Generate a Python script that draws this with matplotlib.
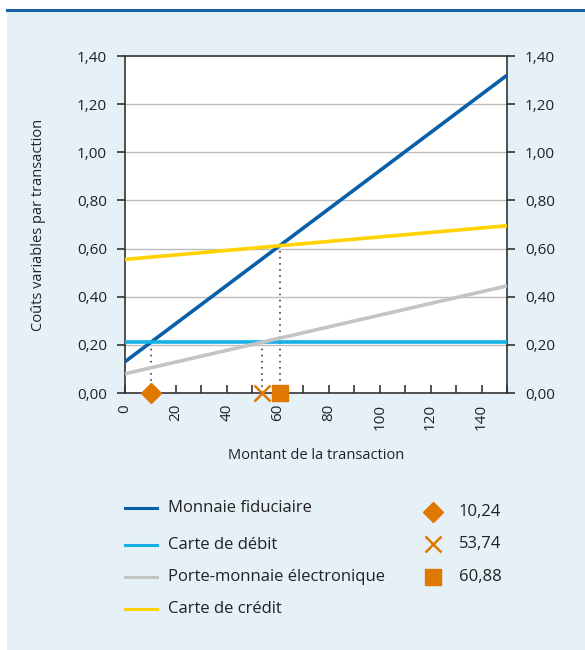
import matplotlib

matplotlib.use("Agg")
import matplotlib.pyplot as plt
from matplotlib.lines import Line2D
from matplotlib.patches import Rectangle

plt.rcParams["font.family"] = ["Open Sans", "DejaVu Sans"]

# data
x_range = [0, 150]
series_names = ["Monnaie fiduciaire", "Carte de débit", "Porte-monnaie électronique", "Carte de crédit"]
series_start = [0.13, 0.21, 0.08, 0.555]
series_end = [1.32, 0.21, 0.445, 0.695]
series_colors = ["#0b5ea8", "#14b1e7", "#c4c4c6", "#ffd200"]

cross_x = [10.24, 53.74, 60.88]
cross_y = [0.21, 0.21, 0.613]
cross_labels = ["10,24", "53,74", "60,88"]
cross_markers = ["D", "x", "s"]
orange = "#e07800"

bg = "#e5f0f7"

fig = plt.figure(figsize=(5.85, 6.5), dpi=100)
fig.patch.set_facecolor("white")
fig.patches.append(Rectangle((7 / 585, 0), 1, 1 - 10 / 650, transform=fig.transFigure,
                             facecolor=bg, edgecolor="none", zorder=-10))
fig.lines.append(Line2D([7 / 585, 1], [1 - 10 / 650] * 2, transform=fig.transFigure,
                        color="#1a62a6", lw=2.2, zorder=-9))

ax = fig.add_axes([125 / 585, 1 - 393 / 650, 382 / 585, 337 / 650])
ax.set_facecolor("white")
ax.set_xlim(0, 150)
ax.set_ylim(0, 1.4)

yticks = [i * 0.2 for i in range(8)]
ax.set_yticks(yticks)
ax.set_yticklabels([f"{v:.2f}".replace(".", ",") for v in yticks])
for v in yticks[1:-1]:
    ax.axhline(v, color="#bdbdbd", lw=1, zorder=1)

ax.set_xticks(range(0, 151, 10))
ax.set_xticklabels([str(v) if v % 20 == 0 else "" for v in range(0, 151, 10)], rotation=90)
ax.tick_params(axis="x", direction="in", length=6, width=1.2, colors="#333333",
               labelcolor="#222222", labelsize=11, pad=8)
ax.tick_params(axis="y", direction="out", length=6, width=1.2, colors="#333333",
               labelcolor="#222222", labelsize=11, pad=7)
for s in ax.spines.values():
    s.set_color("#333333")
    s.set_linewidth(1.2)

ax2 = ax.twinx()
ax2.set_ylim(0, 1.4)
ax2.set_yticks(yticks)
ax2.set_yticklabels([f"{v:.2f}".replace(".", ",") for v in yticks])
ax2.tick_params(axis="y", direction="out", length=6, width=1.2, colors="#333333",
                labelcolor="#222222", labelsize=11, pad=7)
for s in ax2.spines.values():
    s.set_visible(False)

for name, y0, y1, c in zip(series_names, series_start, series_end, series_colors):
    ax.plot(x_range, [y0, y1], color=c, lw=2.6, zorder=3, solid_capstyle="butt")

for xv, yv in zip(cross_x, cross_y):
    ax.plot([xv, xv], [0, yv], color="#222222", lw=1.1, ls=(0, (1, 3)), zorder=2)

for xv, m in zip(cross_x, cross_markers):
    if m == "x":
        ax.plot(xv, 0, marker=m, ms=12, mew=1.8, color=orange, clip_on=False, zorder=5)
    else:
        ax.plot(xv, 0, marker=m, ms=10 if m == "D" else 11, color=orange, mec=orange,
                clip_on=False, zorder=5)

ax.set_xlabel("Montant de la transaction", fontsize=10.5, color="#222222", labelpad=13)
ax.set_ylabel("Coûts variables par transaction", fontsize=10.5, color="#222222", labelpad=22)

# legend drawn as figure lines / text
legend_y = [508, 545, 577, 609]
for name, c, ly in zip(series_names, series_colors, legend_y):
    fy = 1 - ly / 650
    fig.lines.append(Line2D([125 / 585, 157 / 585], [fy, fy], transform=fig.transFigure,
                            color=c, lw=2.2))
    fig.text(168 / 585, fy, name, fontsize=12, color="#222222", va="center")

marker_y = [512, 544, 577]
for lab, m, my in zip(cross_labels, cross_markers, marker_y):
    fy = 1 - my / 650
    if m == "x":
        fig.lines.append(Line2D([433 / 585], [fy], transform=fig.transFigure, marker=m,
                                ms=12, mew=1.8, color=orange, ls="none"))
    else:
        fig.lines.append(Line2D([433 / 585], [fy], transform=fig.transFigure, marker=m,
                                ms=10 if m == "D" else 11, color=orange, ls="none"))
    fig.text(459 / 585, fy, lab, fontsize=12, color="#222222", va="center")

fig.savefig("out.png", dpi=100, facecolor=fig.get_facecolor())
